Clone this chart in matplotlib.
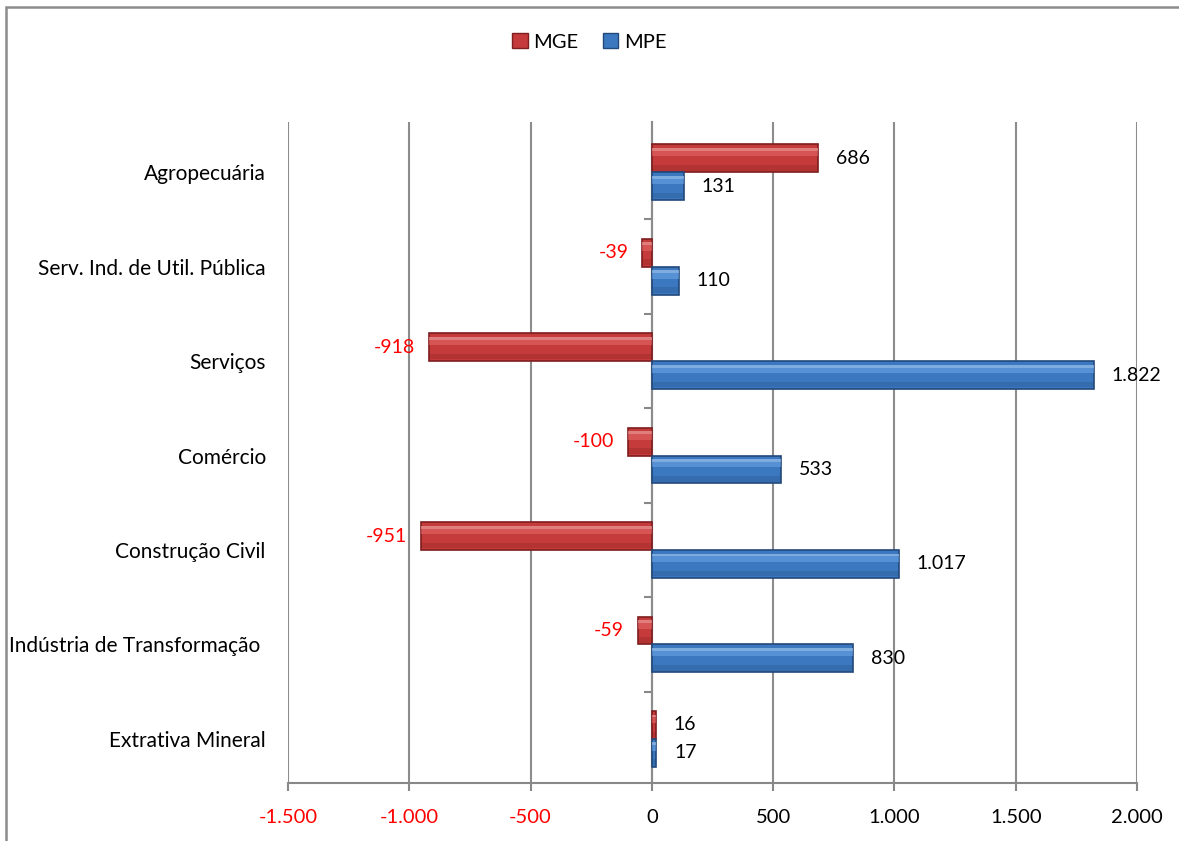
import matplotlib
matplotlib.use("Agg")
import matplotlib.pyplot as plt
from matplotlib.patches import Rectangle, Patch
from matplotlib.ticker import FuncFormatter

categories = ["Extrativa Mineral", "Indústria de Transformação ", "Construção Civil",
              "Comércio", "Serviços", "Serv. Ind. de Util. Pública", "Agropecuária"]
mge = [16, -59, -951, -100, -918, -39, 686]
mpe = [17, 830, 1017, 533, 1822, 110, 131]
xticks = [-1500, -1000, -500, 0, 500, 1000, 1500, 2000]

plt.rcParams['font.family'] = ['Lato', 'DejaVu Sans']

W, H = 1179, 841
fig = plt.figure(figsize=(W / 100, H / 100), dpi=100)
top_px, bot_px = 122, 783
ax = fig.add_axes([288 / W, 1 - bot_px / H, (1137 - 288) / W, (bot_px - top_px) / H])

red_face, red_hi, red_edge = "#C53A3A", "#E56A6A", "#7E1E1E"
blue_face, blue_hi, blue_edge = "#3B78C0", "#6BA6E6", "#22497A"

bh = 0.295
y = list(range(len(categories)))
y_mge = [v + bh / 2 for v in y]
y_mpe = [v - bh / 2 for v in y]

def bevel_bars(ypos, vals, face, hi, edge):
    ax.barh(ypos, vals, height=bh, color=face, edgecolor=edge, linewidth=1.2, zorder=3)
    ax.barh([p + bh * 0.22 for p in ypos], vals, height=bh * 0.30, color=hi,
            linewidth=0, alpha=0.55, zorder=4)
    ax.barh([p + bh * 0.32 for p in ypos], vals, height=bh * 0.10, color="white",
            linewidth=0, alpha=0.25, zorder=4)
    ax.barh([p - bh * 0.34 for p in ypos], vals, height=bh * 0.2, color=edge,
            linewidth=0, alpha=0.25, zorder=4)

bevel_bars(y_mge, mge, red_face, red_hi, red_edge)
bevel_bars(y_mpe, mpe, blue_face, blue_hi, blue_edge)

def fmt(v):
    s = f"{abs(v):,}".replace(",", ".")
    return ("-" if v < 0 else "") + s

for ys, vals in ((y_mge, mge), (y_mpe, mpe)):
    for yy, v in zip(ys, vals):
        if v >= 0:
            ax.annotate(fmt(v), (v, yy), xytext=(13, 0), textcoords="offset points",
                        ha="left", va="center", fontsize=14, color="black", zorder=5)
        else:
            ax.annotate(fmt(v), (v, yy), xytext=(-10, 0), textcoords="offset points",
                        ha="right", va="center", fontsize=14, color="red", zorder=5)

ax.set_xlim(-1500, 2000)
ax.set_ylim(-0.468, len(categories) - 0.468)
ax.set_xticks(xticks)
ax.xaxis.set_major_formatter(FuncFormatter(lambda v, p: fmt(int(v))))
for lbl, v in zip(ax.get_xticklabels(), xticks):
    lbl.set_color("red" if v < 0 else "black")
ax.tick_params(axis="x", direction="out", length=6, width=1.5, color="#888888",
               labelsize=14.5, pad=13)

ax.set_yticks(y)
ax.set_yticklabels(categories)
ax.tick_params(axis="y", length=0, labelsize=15, pad=16)

ax.grid(axis="x", color="#8C8C8C", linewidth=1.5, zorder=0)
ax.set_axisbelow(True)
for s in ("top", "right", "left"):
    ax.spines[s].set_visible(False)
ax.spines["bottom"].set_color("#888888")
ax.spines["bottom"].set_linewidth(1.5)

sec = ax.secondary_yaxis(1500 / 3500)
sec.spines["left"].set_color("#888888")
sec.spines["left"].set_linewidth(1.5)
sec.set_yticks([v + 0.5 for v in range(0, len(categories) - 1)])
sec.set_yticklabels([])
sec.tick_params(axis="y", direction="out", length=6, width=1.5, color="#888888")

handles = [Patch(facecolor=red_face, edgecolor=red_edge, label="MGE"),
           Patch(facecolor=blue_face, edgecolor=blue_edge, label="MPE")]
fig.legend(handles=handles, loc="center", bbox_to_anchor=(0.5, 1 - 42 / H), ncol=2,
           frameon=False, fontsize=14.5, handlelength=0.75, handleheight=0.75,
           handletextpad=0.3, columnspacing=1.2)

fig.patches.append(Rectangle((6 / W, -0.02), 1.1, 1.02 - 7 / H, transform=fig.transFigure,
                             fill=False, edgecolor="#8C8C8C", linewidth=1.8))

fig.savefig("out.png", dpi=100)
